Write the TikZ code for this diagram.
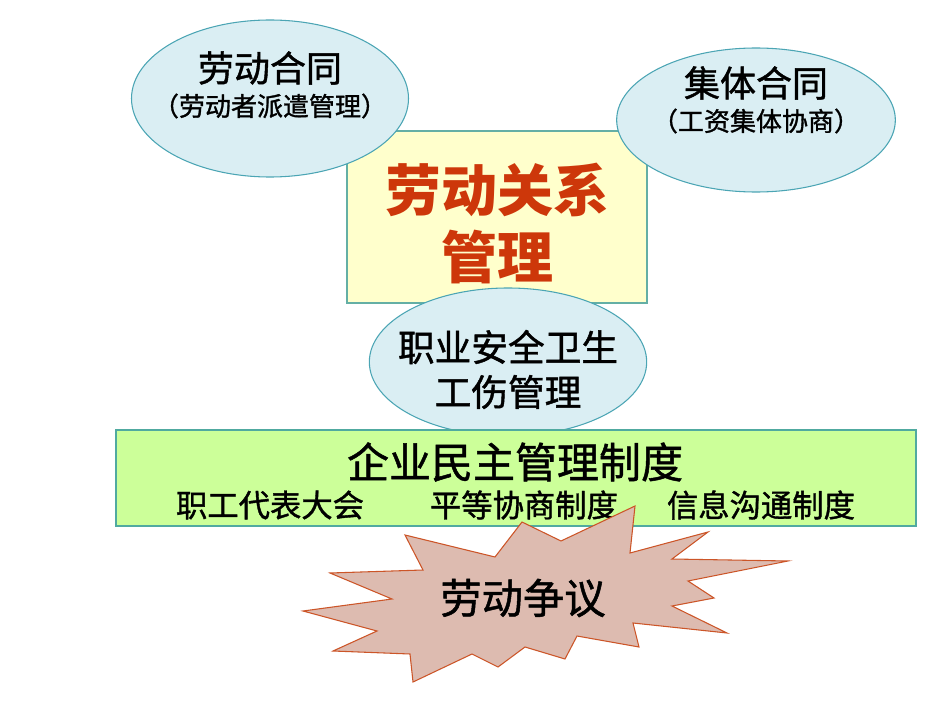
\documentclass[tikz,border=0pt]{standalone}
\usepackage{fontspec}
\newfontfamily\cjk[FakeBold=1.2]{Noto Sans CJK SC}
\newfontfamily\cjkttl{Noto Sans CJK SC}
\usetikzlibrary{shapes.geometric}
\definecolor{ellfill}{RGB}{218,238,243}
\definecolor{elldraw}{RGB}{75,165,180}
\definecolor{yelfill}{RGB}{255,255,204}
\definecolor{yeldraw}{RGB}{100,175,165}
\definecolor{grnfill}{RGB}{204,255,153}
\definecolor{grndraw}{RGB}{80,170,160}
\definecolor{burstfill}{RGB}{221,187,176}
\definecolor{burstdraw}{RGB}{204,85,40}
\definecolor{titlered}{RGB}{205,55,10}
\begin{document}
\begin{tikzpicture}[x=0.75pt,y=-0.75pt,
  oval/.style={ellipse,draw=elldraw,fill=ellfill,line width=0.8pt,inner sep=0pt},
  panel/.style={draw=#1,line width=0.8pt},
  txt/.style={font=\cjk\fontsize{#1}{#1}\selectfont,inner sep=0pt,text=black},
  ttl/.style={font=\cjkttl\bfseries\fontsize{42}{42}\selectfont,inner sep=0pt,text=titlered}
]
\useasboundingbox (0,0) rectangle (950,713);
% central yellow box
\node[panel=yeldraw,fill=yelfill,minimum width=225pt,minimum height=129pt,inner sep=0pt] (core) at (497,217) {};
\node[ttl] (t1) at (497,190) {劳动关系};
\node[ttl] (t2) at (497,257) {管理};
% left ellipse
\node[oval,minimum width=207.75pt,minimum height=117.75pt] (lab) at (270,98.5) {};
\node[txt=27] (lab1) at (270,68) {劳动合同};
\node[txt=19.5] (lab2) at (270,106) {（劳动者派遣管理）};
% right ellipse
\node[oval,minimum width=209pt,minimum height=108pt] (col) at (756,120) {};
\node[txt=27] (col1) at (756,83) {集体合同};
\node[txt=19.5] (col2) at (756,121) {（工资集体协商）};
% middle ellipse
\node[oval,minimum width=208pt,minimum height=111pt] (saf) at (508,362) {};
\node[txt=27.5] (saf1) at (508,347) {职业安全卫生};
\node[txt=27.5] (saf2) at (508,392) {工伤管理};
% green box
\node[panel=grndraw,fill=grnfill,minimum width=600pt,minimum height=72pt,inner sep=0pt] (dem) at (516,478) {};
\node[txt=31.5] (dem1) at (515,462) {企业民主管理制度};
\node[txt=23.5] (dem2) at (270,505) {职工代表大会};
\node[txt=23.5] (dem3) at (524,505) {平等协商制度};
\node[txt=23.5] (dem4) at (761,505) {信息沟通制度};
% starburst
\draw[fill=burstfill,draw=burstdraw,line width=0.8pt]
  (635,506) -- (630,553) -- (708,532) -- (672,559) -- (788,561) -- (688,581)
  -- (714,598) -- (672,606) -- (727,633) -- (633,623) -- (639,647) -- (577,636)
  -- (565,659) -- (525,647) -- (498,667) -- (472,654) -- (413,682) -- (410,654)
  -- (333,651) -- (377,631) -- (303,611) -- (392,599) -- (330,573) -- (423,570)
  -- (405,535) -- (495,557) -- (522,522) -- (561,541) -- cycle;
\node[txt=31] (dis) at (523,598) {劳动争议};
\end{tikzpicture}
\end{document}
